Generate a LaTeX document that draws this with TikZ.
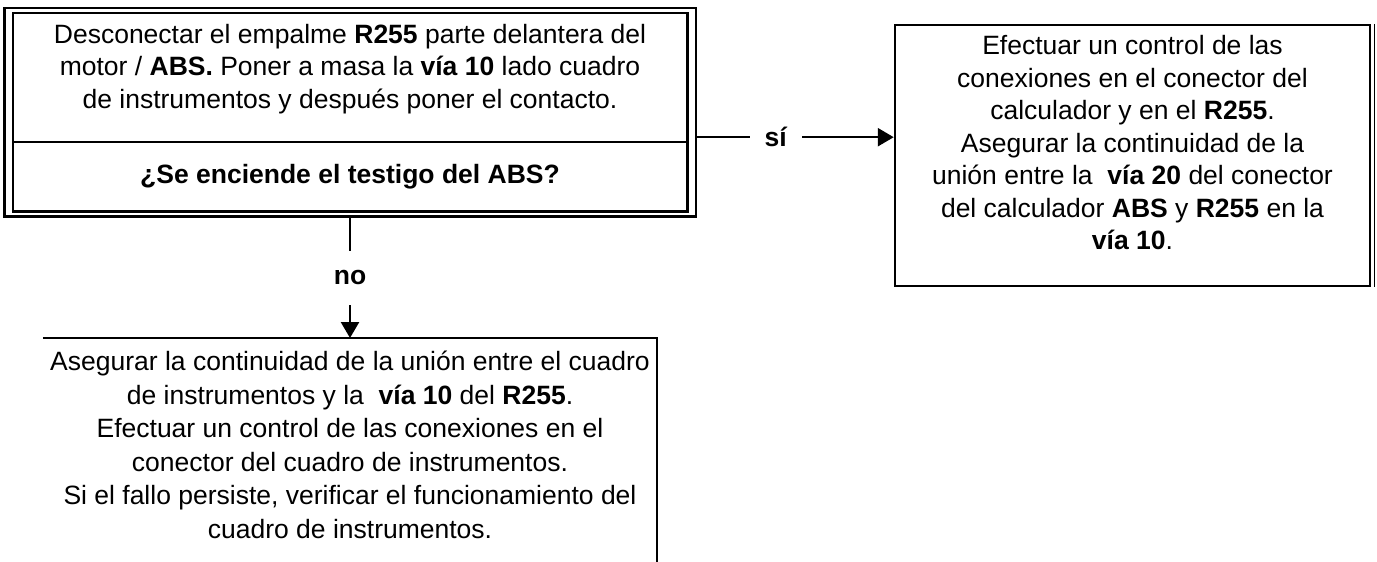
\documentclass[tikz,border=0pt]{standalone}
\usepackage{fontspec}
\setmainfont{Liberation Sans}
\usetikzlibrary{arrows.meta, positioning, fit}

\begin{document}
\begin{tikzpicture}[x=1pt,y=-1pt,line width=2.5pt,
	every node/.style={font=\fontsize{26.5}{32.5}\selectfont},
	box/.style={align=center,inner xsep=0pt,inner ysep=10pt,minimum width=672pt},
	flow/.style={-{Triangle[length=16pt,width=18pt]}},
	tag/.style={font=\fontsize{26.5}{32.5}\selectfont\bfseries,fill=white,inner xsep=15pt,inner ysep=20pt}]
	\useasboundingbox (0,0) rectangle (1377,562);
	\coordinate (pagebottom) at (0,562);

	\node[box,anchor=north] (act) at (350,13) {Desconectar el empalme \textbf{R255} parte delantera del\\ motor / \textbf{ABS.} Poner a masa la \textbf{vía 10} lado cuadro\\ de instrumentos y después poner el contacto.};
	\node[box,minimum height=67pt,inner ysep=0pt,font=\fontsize{26.5}{32.5}\selectfont\bfseries] (ask) [below=17pt of act] {¿Se enciende el testigo del ABS?};
	\draw (act.north west) rectangle (ask.south east);
	\draw (ask.north west) -- (ask.north east);
	\node[draw,fit=(act)(ask),inner xsep=8.5pt,inner ysep=5pt] (frame) {};

	\node[draw,align=center,minimum width=475pt,minimum height=261pt,text depth=26pt] (calc) at (1132.5,155.5) {Efectuar un control de las\\ conexiones en el conector del\\ calculador y en el \textbf{R255}.\\ Asegurar la continuidad de la\\ unión entre la \ \textbf{vía 20} del conector\\ del calculador \textbf{ABS} y \textbf{R255} en la\\ \textbf{vía 10}.};
	\draw[line width=1.2pt] ([xshift=3.5pt]calc.north east) -- ([xshift=3.5pt]calc.south east);

	\node[align=center,anchor=north,inner xsep=6pt,inner ysep=12pt,font=\fontsize{26.5}{33.5}\selectfont] (fix) at (350,338) {Asegurar la continuidad de la unión entre el cuadro\\ de instrumentos y la \ \textbf{vía 10} del \textbf{R255}.\\ Efectuar un control de las conexiones en el\\ conector del cuadro de instrumentos.\\ Si el fallo persiste, verificar el funcionamiento del\\ cuadro de instrumentos.};
	\draw (fix.north west) -- (fix.north east) -- (fix.north east |- pagebottom);

	\draw[flow] ([yshift=5pt]ask.north -| frame.east) -- node[tag,pos=0.4] {sí} ([yshift=5pt]ask.north -| calc.west);
	\draw[flow] (frame.south) -- node[tag] {no} (frame.south |- fix.north);
\end{tikzpicture}
\end{document}
